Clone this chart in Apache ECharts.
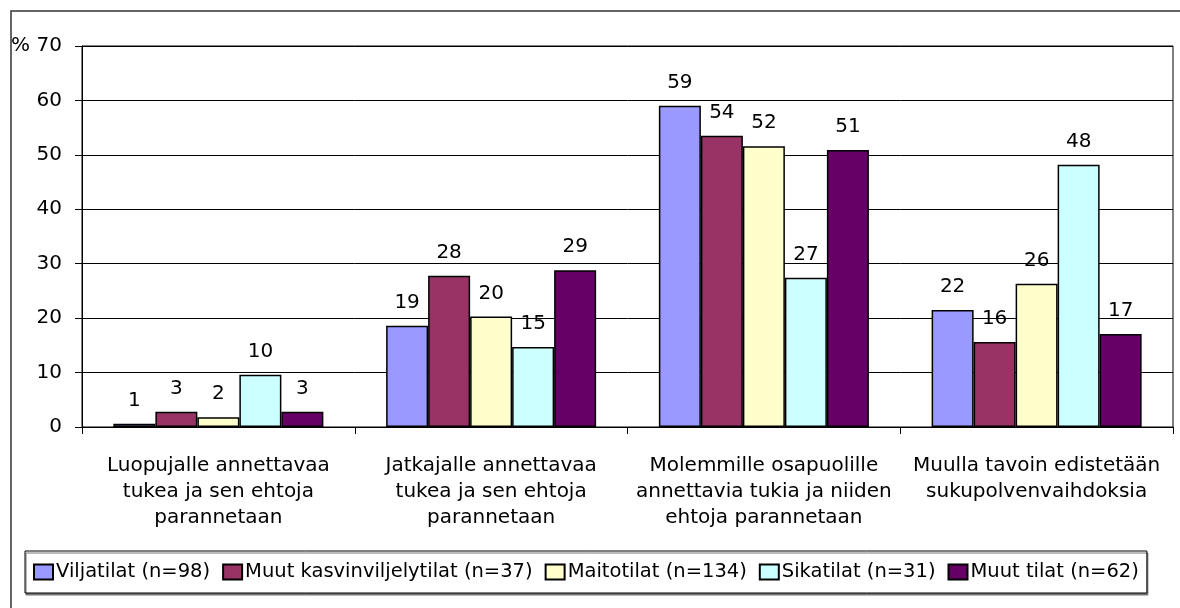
<!DOCTYPE html>
<html>
<head>
<meta charset="utf-8">
<style>
  html, body { margin: 0; padding: 0; background: #fff; }
  #chart { width: 1180px; height: 608px; }
</style>
<script src="https://cdn.jsdelivr.net/npm/echarts@6/dist/echarts.min.js"></script>
</head>
<body>
<div id="chart"></div>
<script>
// ---- Data ----
const categories = [
  "Luopujalle annettavaa\ntukea ja sen ehtoja\nparannetaan",
  "Jatkajalle annettavaa\ntukea ja sen ehtoja\nparannetaan",
  "Molemmille osapuolille\nannettavia tukia ja niiden\nehtoja parannetaan",
  "Muulla tavoin edistetään\nsukupolvenvaihdoksia"
];
const seriesNames = [
  "Viljatilat (n=98)",
  "Muut kasvinviljelytilat (n=37)",
  "Maitotilat (n=134)",
  "Sikatilat (n=31)",
  "Muut tilat (n=62)"
];
const viljatilat   = [0.6, 18.6, 59.0, 21.5];
const muutKasvin   = [2.8, 27.8, 53.5, 15.6];
const maitotilat   = [1.8, 20.3, 51.6, 26.3];
const sikatilat    = [9.6, 14.7, 27.4, 48.2];
const muutTilat    = [2.8, 28.8, 50.9, 17.1];
const yTicks = [0, 10, 20, 30, 40, 50, 60, 70];
const yUnit = "%";

const seriesData = [viljatilat, muutKasvin, maitotilat, sikatilat, muutTilat];
const colors = ["#9999FF", "#993366", "#FFFFCC", "#CCFFFF", "#660066"];

const FONT = "DejaVu Sans";

const chart = echarts.init(document.getElementById("chart"), null, { renderer: "canvas" });

const option = {
  animation: false,
  backgroundColor: "#ffffff",
  textStyle: { fontFamily: FONT, color: "#000" },
  graphic: [{
    type: "rect",
    silent: true,
    z: -10,
    shape: { x: 11, y: 11, width: 1400, height: 800 },
    style: { fill: "none", stroke: "#333", lineWidth: 1.5 }
  }],
  grid: {
    left: 82, right: 7, top: 46, bottom: 181,
    show: true,
    borderColor: "#000",
    borderWidth: 1,
    backgroundColor: "transparent"
  },
  legend: {
    data: seriesNames,
    left: 25,
    top: 551,
    orient: "horizontal",
    itemWidth: 19,
    itemHeight: 15,
    itemGap: 12,
    padding: [10, 8, 10, 8],
    borderColor: "#000",
    borderWidth: 1,
    backgroundColor: "#fff",
    shadowColor: "#777",
    shadowOffsetX: 1,
    shadowOffsetY: 2,
    shadowBlur: 0,
    icon: "rect",
    textStyle: { fontFamily: FONT, fontSize: 19.5, color: "#000", lineHeight: 22, padding: [0, 0, 0, -2] }
  },
  xAxis: {
    type: "category",
    data: categories,
    axisLine: { show: true, lineStyle: { color: "#000", width: 1 } },
    axisTick: { show: true, length: 7, lineStyle: { color: "#000" } },
    axisLabel: {
      interval: 0,
      fontFamily: FONT,
      fontSize: 20,
      lineHeight: 26,
      color: "#000",
      margin: 26,
      align: "center"
    },
    splitLine: { show: false }
  },
  yAxis: {
    type: "value",
    min: yTicks[0],
    max: yTicks[yTicks.length - 1],
    interval: yTicks[1] - yTicks[0],
    name: yUnit,
    nameLocation: "end",
    nameGap: 0,
    nameTextStyle: {
      fontFamily: FONT, fontSize: 20, color: "#000",
      align: "right", verticalAlign: "middle", padding: [0, 52, 0, 0]
    },
    axisLine: { show: true, lineStyle: { color: "#000", width: 1 } },
    axisTick: { show: true, length: 7, inside: false, lineStyle: { color: "#000" } },
    axisLabel: { fontFamily: FONT, fontSize: 20, color: "#000", margin: 20 },
    splitLine: { show: true, lineStyle: { color: "#000", width: 1 } }
  },
  series: seriesNames.map((name, i) => ({
    name: name,
    type: "bar",
    data: seriesData[i],
    barGap: "0%",
    barCategoryGap: "23%",
    itemStyle: { color: colors[i], borderColor: "#000", borderWidth: 1.5 },
    label: {
      show: true,
      position: "top",
      distance: 13,
      fontFamily: FONT,
      fontSize: 20,
      color: "#000",
      formatter: p => String(Math.round(p.value))
    }
  }))
};

chart.setOption(option);
</script>
</body>
</html>
